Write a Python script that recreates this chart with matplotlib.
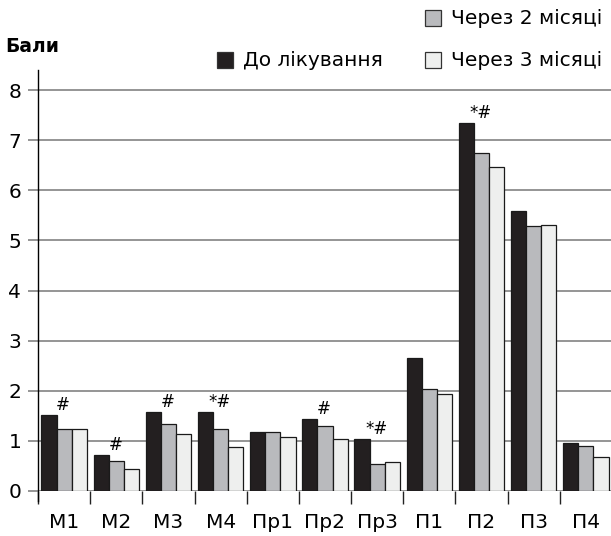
import numpy as np
import matplotlib.pyplot as plt
from matplotlib.patches import Rectangle

plt.rcParams['font.family'] = ['DejaVu Sans']

groups = ['М1', 'М2', 'М3', 'М4', 'Пр1', 'Пр2', 'Пр3', 'П1', 'П2', 'П3', 'П4']
before = [1.52, 0.72, 1.58, 1.58, 1.18, 1.44, 1.04, 2.65, 7.34, 5.59, 0.95]
month2 = [1.23, 0.60, 1.34, 1.23, 1.17, 1.30, 0.53, 2.03, 6.74, 5.28, 0.90]
month3 = [1.23, 0.43, 1.13, 0.87, 1.07, 1.03, 0.57, 1.94, 6.47, 5.31, 0.67]
marks = ['#', '#', '#', '*#', '', '#', '*#', '', '*#', '', '']

series = [
    ('До лікування', before, '#231f20'),
    ('Через 2 місяці', month2, '#b9babd'),
    ('Через 3 місяці', month3, '#eeefee'),
]

fig = plt.figure(figsize=(6.11, 5.36), dpi=100)
ax = fig.add_axes([38 / 611, 45 / 536, 574 / 611, 421 / 536])

x = np.arange(len(groups)) + 0.5
w = 0.29
for i, (name, vals, col) in enumerate(series):
    ax.bar(x + (i - 1) * w, vals, w, color=col, edgecolor='#1a1a1a',
           linewidth=0.9, zorder=3)

# significance marks above each group
for xi, m, b in zip(x, marks, before):
    if m:
        ax.text(xi - 0.02, b + 0.02, m, ha='center', va='bottom',
                fontsize=12, zorder=4)

ax.set_xlim(0, len(groups))
ax.set_ylim(0, 8.4)
ax.set_yticks(range(9))
ax.yaxis.grid(True, color='#8c8c8c', linewidth=1.3, zorder=0)
ax.set_axisbelow(True)
ax.tick_params(axis='y', length=7, width=1.3, color='#8c8c8c',
               labelsize=14.5, pad=5)

ax.set_xticks(x)
ax.set_xticklabels(groups)
ax.set_xticks(np.arange(len(groups) + 1), minor=True)
ax.tick_params(axis='x', which='major', length=0, labelsize=14.5, pad=16)
ax.tick_params(axis='x', which='minor', length=9, width=1, color='#222222')

for s in ['top', 'right', 'bottom']:
    ax.spines[s].set_visible(False)
ax.spines['left'].set_linewidth(1)
ax.spines['left'].set_bounds(-0.2, 8.4)

fig.text(5 / 611, 1 - 47 / 536, 'Бали', fontsize=13.5, fontweight='bold',
         va='center', ha='left')

# legend
legend_items = [
    ('До лікування', series[0][2], 217, 60),
    ('Через 2 місяці', series[1][2], 425, 18),
    ('Через 3 місяці', series[2][2], 425, 60),
]
for label, col, px, py in legend_items:
    sq = 16
    fig.patches.append(Rectangle((px / 611, 1 - (py + sq / 2) / 536),
                                 sq / 611, sq / 536, transform=fig.transFigure,
                                 facecolor=col, edgecolor='#333333',
                                 linewidth=0.9))
    fig.text((px + sq + 10) / 611, 1 - py / 536, label, fontsize=14.5,
             va='center', ha='left')

fig.savefig('out.png', dpi=100)
